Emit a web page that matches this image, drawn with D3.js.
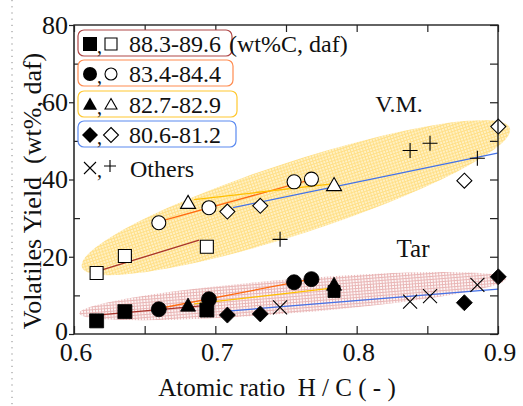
<!DOCTYPE html>
<html>
<head>
<meta charset="utf-8">
<script src="https://cdn.jsdelivr.net/npm/d3@7"></script>
<style>
  html, body { margin: 0; padding: 0; background: #fff; }
  svg { display: block; font-family: "Liberation Serif", "Times New Roman", serif; }
  text { white-space: pre; }
</style>
</head>
<body>
<svg id="chart" width="523" height="406"></svg>
<script>
// ---------- data ----------
const legendLabels = ["88.3-89.6", "83.4-84.4", "82.7-82.9", "80.6-81.2"];
const legendUnit = "(wt%C, daf)";
const othersLabel = "Others";
const xTicks = [0.6, 0.7, 0.8, 0.9];
const yTicks = [0, 20, 40, 60, 80];

// series: H/C, V.M. yield (open symbols), tar yield (filled symbols)
const sqHC  = [0.616, 0.636, 0.694];
const sqVM  = [15.8, 20.2, 22.6];
const sqTar = [3.4, 5.8, 6.2];
const sqTarExtraHC = [0.784];
const sqTarExtra   = [11.0];

const ciHC  = [0.660, 0.6955, 0.7557, 0.768];
const ciVM  = [28.8, 32.7, 39.4, 40.1];
const ciTar = [6.4, 9.0, 13.4, 14.2];

const trHC  = [0.6807, 0.784];
const trVM  = [33.8, 38.4];
const trTar = [7.2, 12.6];

const diHC  = [0.7085, 0.7318, 0.8762, 0.9002];
const diVM  = [31.7, 33.2, 39.7, 53.7];
const diTar = [4.9, 5.2, 8.1, 14.8];

const otHC  = [0.7458, 0.8378, 0.8519, 0.8854];
const otVM  = [24.5, 47.5, 49.4, 45.5];
const otTar = [6.9, 8.4, 9.8, 12.7];

// trend lines [x1, x2], [y1, y2]
const fitSqX = [0.6198, 0.6885], fitSqVM = [16.6, 24.3], fitSqTarX = [0.616, 0.694], fitSqTar = [4.9, 7.4];
const fitCiX = [0.664, 0.765],   fitCiVM = [29.5, 39.7], fitCiTarX = [0.660, 0.768], fitCiTar = [6.6, 14.2];
const fitTrX = [0.685, 0.781],   fitTrVM = [34.8, 38.8], fitTrTarX = [0.685, 0.781], fitTrTar = [7.8, 11.8];
const fitDiX = [0.7125, 0.8996], fitDiVM = [32.7, 46.8], fitDiTarX = [0.711, 0.900], fitDiTar = [6.0, 11.6];

// shaded regions: centre (H/C, yield)
const vmRegion  = [0.757, 35.3];
const tarRegion = [0.7546, 9.8];

// ---------- drawing ----------
const svg = d3.select("#chart");
const x = d3.scaleLinear().domain([0.6, 0.9]).range([74, 498]);
const y = d3.scaleLinear().domain([0, 80]).range([334, 25]);

const colors = { sq: "#a8332a", ci: "#ff6a10", tr: "#ffc000", di: "#4472e8" };
const boxColors = ["#b04848", "#ff8c50", "#ffc830", "#5b8af0"];

// patterns
const defs = svg.append("defs");
const pY = defs.append("pattern").attr("id", "pY").attr("width", 3).attr("height", 3).attr("patternUnits", "userSpaceOnUse");
pY.append("rect").attr("width", 3).attr("height", 3).attr("fill", "#fff1c4");
pY.append("rect").attr("width", 3).attr("height", 1).attr("fill", "#ffdf88");
pY.append("rect").attr("width", 1).attr("height", 3).attr("fill", "#ffdf88");
const pR = defs.append("pattern").attr("id", "pR").attr("width", 3).attr("height", 3).attr("patternUnits", "userSpaceOnUse");
pR.append("rect").attr("width", 3).attr("height", 3).attr("fill", "#fdf6f6");
pR.append("rect").attr("width", 3).attr("height", 1).attr("fill", "#e9b6b6");
pR.append("rect").attr("width", 1).attr("height", 3).attr("fill", "#e9b6b6");

// dotted line at far left
svg.append("line").attr("x1", 12).attr("x2", 12).attr("y1", 0).attr("y2", 406)
  .attr("stroke", "#888").attr("stroke-dasharray", "1.2,5").attr("stroke-width", 1);

// regions
svg.append("ellipse")
  .attr("cx", 0).attr("cy", 0).attr("rx", 225).attr("ry", 36)
  .attr("transform", `translate(${x(vmRegion[0])},${y(vmRegion[1])}) rotate(-18)`)
  .attr("fill", "url(#pY)");
svg.append("ellipse")
  .attr("cx", 0).attr("cy", 0).attr("rx", 214).attr("ry", 17)
  .attr("transform", `translate(${x(tarRegion[0])},${y(tarRegion[1])}) rotate(-4.6)`)
  .attr("fill", "url(#pR)");

// trend lines
function fit(xs, ys, c) {
  svg.append("line").attr("x1", x(xs[0])).attr("y1", y(ys[0])).attr("x2", x(xs[1])).attr("y2", y(ys[1]))
    .attr("stroke", c).attr("stroke-width", 1.3);
}
fit(fitSqX, fitSqVM, colors.sq); fit(fitSqTarX, fitSqTar, colors.sq);
fit(fitCiX, fitCiVM, colors.ci); fit(fitCiTarX, fitCiTar, colors.ci);
fit(fitTrX, fitTrVM, colors.tr); fit(fitTrTarX, fitTrTar, colors.tr);
fit(fitDiX, fitDiVM, colors.di); fit(fitDiTarX, fitDiTar, colors.di);

// symbol shapes
const shapes = {
  sq: s => `M${-s/2},${-s/2}H${s/2}V${s/2}H${-s/2}Z`,
  ci: s => d3.symbol(d3.symbolCircle, Math.PI * (s/2) * (s/2))(),
  tr: s => { const h = s * 0.87; return `M0,${-h*0.62}L${s/2},${h*0.38}L${-s/2},${h*0.38}Z`; },
  di: s => `M0,${-s/2}L${s/2},0L0,${s/2}L${-s/2},0Z`,
  x:  s => `M${-s/2},${-s/2}L${s/2},${s/2}M${s/2},${-s/2}L${-s/2},${s/2}`,
  p:  s => `M${-s/2},0H${s/2}M0,${-s/2}V${s/2}`
};
function pts(xs, ys, shape, size, filled) {
  svg.append("g").selectAll("path").data(xs.map((v, i) => [v, ys[i]])).join("path")
    .attr("transform", d => `translate(${x(d[0])},${y(d[1])})`)
    .attr("d", shapes[shape](size))
    .attr("fill", filled ? "#000" : (shape === "x" || shape === "p" ? "none" : "#fff"))
    .attr("stroke", "#000")
    .attr("stroke-width", filled ? 0.8 : 1.1);
}
// open (V.M.)
pts(sqHC, sqVM, "sq", 13, false);
pts(ciHC, ciVM, "ci", 14, false);
pts(trHC, trVM, "tr", 15, false);
pts(diHC, diVM, "di", 15, false);
pts(otHC, otVM, "p", 15, false);
// filled (Tar)
pts(sqHC, sqTar, "sq", 14, true);
pts(sqTarExtraHC, sqTarExtra, "sq", 12, true);
pts(ciHC, ciTar, "ci", 15, true);
pts(trHC, trTar, "tr", 15, true);
pts(diHC, diTar, "di", 16, true);
pts(otHC, otTar, "x", 14, false);

// frame
svg.append("rect").attr("x", 74).attr("y", 25).attr("width", 424).attr("height", 309)
  .attr("fill", "none").attr("stroke", "#111").attr("stroke-width", 1.3);
svg.append("line").attr("x1", 74).attr("x2", 74).attr("y1", 25).attr("y2", 335)
  .attr("stroke", "#555").attr("stroke-width", 2);

// axes
const xMinor = d3.range(0.6, 0.9001, 0.05);
const yAll = d3.range(0, 80.01, 10);
const gx = svg.append("g").attr("transform", "translate(0,334)")
  .call(d3.axisBottom(x).tickValues(xMinor).tickSize(-8).tickFormat(""));
const gxt = svg.append("g").attr("transform", "translate(0,25)")
  .call(d3.axisTop(x).tickValues(xMinor).tickSize(-7).tickFormat(""));
const gyr = svg.append("g").attr("transform", "translate(498,0)")
  .call(d3.axisRight(y).tickValues(yAll).tickSize(-8).tickFormat(""));
const gyMinor = svg.append("g").attr("transform", "translate(74,0)")
  .call(d3.axisLeft(y).tickValues(yAll.filter(v => v % 20 !== 0)).tickSize(-6).tickFormat(""));
const gy = svg.append("g").attr("transform", "translate(74,0)")
  .call(d3.axisLeft(y).tickValues(yTicks).tickSize(5).tickPadding(1).tickFormat(d3.format("d")));
[gx, gxt, gyr, gyMinor, gy].forEach(g => {
  g.select(".domain").remove();
  g.selectAll("line").attr("stroke", "#222").attr("stroke-width", 1.2);
});
gy.selectAll("text").attr("font-size", 26).attr("font-family", "Liberation Serif").attr("fill", "#111")
  .attr("dy", d => d === 0 ? "0.2em" : "0.32em");

svg.append("g").selectAll("text").data(xTicks).join("text")
  .attr("x", d => x(d) + 2).attr("y", 361)
  .attr("text-anchor", "middle").attr("font-size", 26).attr("fill", "#111")
  .text(d => d3.format(".1f")(d));

// axis titles
svg.append("text").attr("x", 277).attr("y", 396).attr("text-anchor", "middle")
  .attr("font-size", 25).attr("fill", "#111").text("Atomic ratio  H / C ( - )");
svg.append("text").attr("transform", "translate(41,191) rotate(-90)").attr("text-anchor", "middle")
  .attr("font-size", 26).attr("fill", "#111").text("Volatiles Yield  (wt%, daf)");

// annotations
svg.append("text").attr("x", 399).attr("y", 112).attr("text-anchor", "middle")
  .attr("font-size", 24).attr("fill", "#111").text("V.M.");
svg.append("text").attr("x", 413).attr("y", 257).attr("text-anchor", "middle")
  .attr("font-size", 25).attr("fill", "#111").text("Tar");

// legend
const boxes = [[30, 232], [60, 233], [91, 237], [121, 236]];
const legShapes = ["sq", "ci", "tr", "di"];
legendLabels.forEach((lab, i) => {
  const top = boxes[i][0], right = boxes[i][1];
  svg.append("rect").attr("x", 78).attr("y", top).attr("width", right - 78).attr("height", 26)
    .attr("rx", 6).attr("fill", "#fff").attr("stroke", boxColors[i]).attr("stroke-width", 1.2);
  const cy = top + 14;
  svg.append("path").attr("transform", `translate(90,${cy})`).attr("d", shapes[legShapes[i]](legShapes[i] === "di" ? 16 : 14))
    .attr("fill", "#000");
  svg.append("text").attr("x", 97).attr("y", cy + 9).attr("font-size", 20).attr("fill", "#111").text(",");
  svg.append("path").attr("transform", `translate(111,${cy})`).attr("d", shapes[legShapes[i]](legShapes[i] === "di" ? 15 : 12))
    .attr("fill", "#fff").attr("stroke", "#000").attr("stroke-width", 1.1);
  svg.append("text").attr("x", 129).attr("y", top + 22).attr("font-size", 24).attr("fill", "#111").text(lab);
});
svg.append("text").attr("x", 229).attr("y", 52).attr("font-size", 24).attr("fill", "#111").text(legendUnit);
svg.append("path").attr("transform", "translate(90,168)").attr("d", shapes.x(12))
  .attr("fill", "none").attr("stroke", "#000").attr("stroke-width", 1.1);
svg.append("text").attr("x", 97).attr("y", 177).attr("font-size", 20).attr("fill", "#111").text(",");
svg.append("path").attr("transform", "translate(110,166)").attr("d", shapes.p(12))
  .attr("fill", "none").attr("stroke", "#000").attr("stroke-width", 1.1);
svg.append("text").attr("x", 130).attr("y", 177).attr("font-size", 24).attr("fill", "#111").text(othersLabel);
</script>
</body>
</html>
